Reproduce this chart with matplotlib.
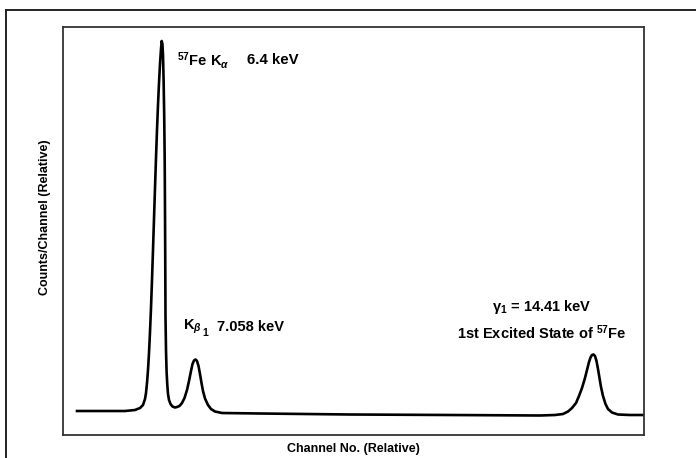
import matplotlib
matplotlib.use('Agg')
import matplotlib.pyplot as plt
from matplotlib.lines import Line2D

plt.rcParams['font.family'] = ['Liberation Sans', 'DejaVu Sans']
plt.rcParams['font.weight'] = 'bold'
plt.rcParams['mathtext.fontset'] = 'custom'
plt.rcParams['mathtext.rm'] = 'Liberation Sans:bold'
plt.rcParams['mathtext.bf'] = 'Liberation Sans:bold'
plt.rcParams['mathtext.it'] = 'Liberation Sans:italic:bold'

# spectrum (channel, counts), relative units
channel = [14, 37, 62, 72, 77, 80, 82, 83, 84, 85, 86, 87, 88, 89, 90, 91, 92, 93,
           94, 95, 96, 97, 98, 98.7, 99.4, 100, 100.6, 101.2, 101.7, 102, 102.2,
           102.5, 103, 103.6, 104.3, 105, 106, 107.5, 109.5, 112, 114, 116.5, 119,
           121.5, 124, 126, 128, 129.5, 131, 132.5, 134, 135.5, 137, 138.5, 140, 142,
           145, 148, 152, 159, 197, 287, 387, 477, 492, 500, 505, 509, 513, 516, 519,
           522, 524, 526, 527.5, 529, 530.5, 532, 533.5, 535, 536.5, 538, 540, 542.5,
           545, 549, 555, 567, 581]
counts = [24, 24, 24, 25, 27, 30, 36, 42, 52, 65, 82, 103, 127, 155, 185, 216, 247,
          277, 305, 330, 352, 371, 386, 394, 391, 380, 355, 320, 275, 225, 185, 118,
          85, 63, 50, 41, 35, 31, 28.5, 27.5, 28, 29, 32, 37, 45, 54, 64, 71, 74.5,
          75.5, 74, 69, 61, 52, 44, 36.5, 30, 26, 23.5, 22, 21.5, 20.5, 20, 19.5, 20,
          21, 23.5, 27, 32, 39, 47, 57, 65, 73, 77.5, 80, 80.5, 79, 74, 66, 57, 48, 39,
          31, 26, 22.5, 20.5, 20, 20]

x_label = 'Channel No. (Relative)'
y_label = 'Counts/Channel (Relative)'

fig = plt.figure(figsize=(6.96, 4.58), dpi=100)

# scan border (top and left edges only)
fig.add_artist(Line2D([6 / 696, 1], [1 - 10 / 458, 1 - 10 / 458],
                      transform=fig.transFigure, color='#222222', lw=1.4))
fig.add_artist(Line2D([6 / 696, 6 / 696], [0, 1 - 10 / 458],
                      transform=fig.transFigure, color='#222222', lw=1.4))

ax = fig.add_axes([63 / 696, 23 / 458, 581 / 696, 408 / 458])
ax.plot(channel, counts, color='black', lw=1.9, solid_joinstyle='round')
ax.set_xlim(0, 581)
ax.set_ylim(0, 408)
ax.set_xticks([])
ax.set_yticks([])
for s in ax.spines.values():
    s.set_color('#333333')
    s.set_linewidth(1.3)

ax.set_xlabel(x_label, fontsize=9, fontweight='bold', labelpad=6)
ax.set_ylabel(y_label, fontsize=9, fontweight='bold')
ax.yaxis.set_label_coords(-0.021, 0.535)

# peak labels
ax.text(114, 375, r'$^{57}$Fe K$_{\alpha}$', fontsize=10.5, va='center', ha='left')
ax.text(184, 375, '6.4 keV', fontsize=10.8, va='center', ha='left')
kb = ax.text(120, 108, r'K$_{\beta}$', fontsize=10.5, va='center', ha='left')
ax.annotate('1', xy=(1.0, 0.0), xycoords=kb, xytext=(0.3, 2.5), textcoords='offset points',
            fontsize=7.5, ha='left', va='center')
ax.text(154, 108, '7.058 keV', fontsize=10.5, va='center', ha='left')
ax.text(479, 128, r'$\mathrm{\gamma}_1$ = 14.41 keV', fontsize=10.5, va='center', ha='center')
ax.text(479, 102, r'1st Excited State of $^{57}$Fe', fontsize=10.5, va='center', ha='center')

plt.savefig('out.png', dpi=100)
